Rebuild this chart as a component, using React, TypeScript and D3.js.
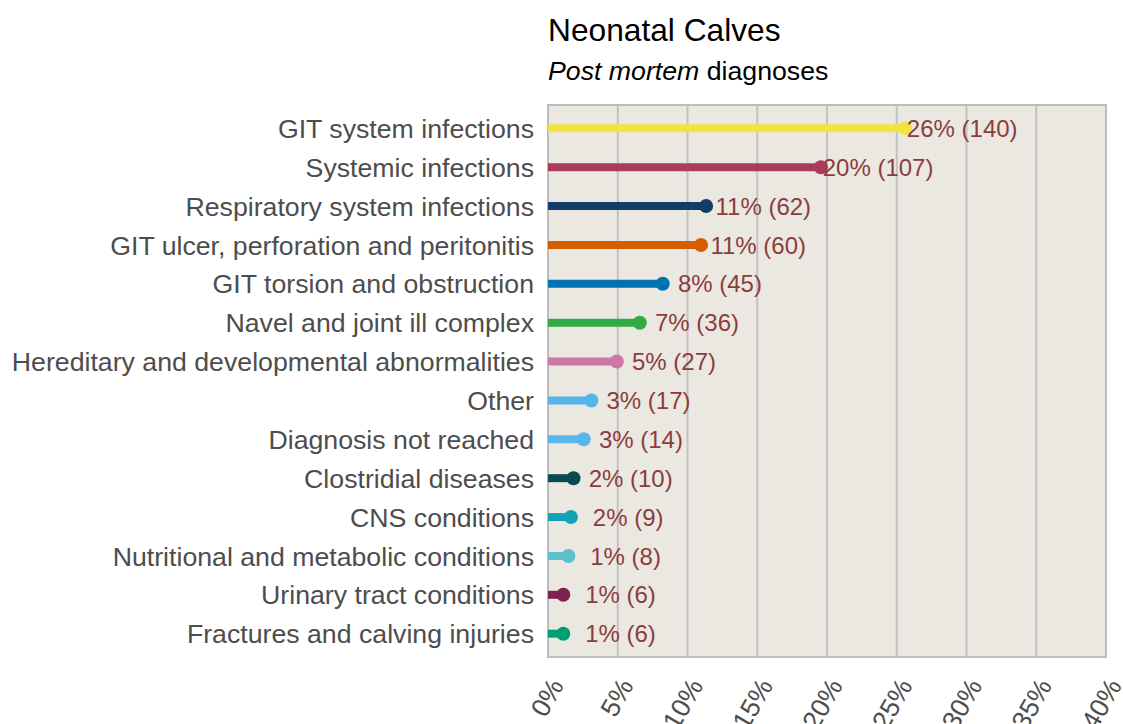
import React from "react";
import * as d3 from "d3";

const categories: string[] = [
  "GIT system infections",
  "Systemic infections",
  "Respiratory system infections",
  "GIT ulcer, perforation and peritonitis",
  "GIT torsion and obstruction",
  "Navel and joint ill complex",
  "Hereditary and developmental abnormalities",
  "Other",
  "Diagnosis not reached",
  "Clostridial diseases",
  "CNS conditions",
  "Nutritional and metabolic conditions",
  "Urinary tract conditions",
  "Fractures and calving injuries",
];

const counts: number[] = [140, 107, 62, 60, 45, 36, 27, 17, 14, 10, 9, 8, 6, 6];

const colors: string[] = [
  "#f0e442",
  "#aa3a5e",
  "#133c69",
  "#d55e00",
  "#0072b2",
  "#33aa44",
  "#cc79a7",
  "#56b4e9",
  "#5ab6ea",
  "#0b4a50",
  "#12a3b6",
  "#5cc0cf",
  "#7b2250",
  "#009e73",
];

const xTicks: number[] = [0, 5, 10, 15, 20, 25, 30, 35, 40];

const title = "Neonatal Calves";
const subtitleItalic = "Post mortem";
const subtitleRest = " diagnoses";

const W = 1123;
const H = 724;
const panel = { left: 548, right: 1106, top: 105, bottom: 657 };
const FONT = "'Liberation Sans', Arial, Helvetica, sans-serif";

export default function App() {
  const total = d3.sum(counts);
  const x = d3.scaleLinear().domain([0, 40]).range([panel.left, panel.right]);
  const y = d3
    .scalePoint<string>()
    .domain(categories)
    .range([panel.top, panel.bottom])
    .padding(0.6);

  return (
    <svg
      width={W}
      height={H}
      style={{ position: "absolute", left: 0, top: 0, background: "#ffffff" }}
      fontFamily={FONT}
    >
      <text x={548} y={41} fontSize={31.7} fill="#000000">
        {title}
      </text>
      <text x={548} y={80} fontSize={26.7} fill="#000000">
        <tspan fontStyle="italic">{subtitleItalic}</tspan>
        <tspan>{subtitleRest}</tspan>
      </text>

      <rect
        x={panel.left}
        y={panel.top}
        width={panel.right - panel.left}
        height={panel.bottom - panel.top}
        fill="#ebe8e1"
      />
      {xTicks.map((t) => (
        <line
          key={"g" + t}
          x1={x(t)}
          x2={x(t)}
          y1={panel.top}
          y2={panel.bottom}
          stroke="#c2c2c2"
          strokeWidth={2}
        />
      ))}
      <rect
        x={panel.left}
        y={panel.top}
        width={panel.right - panel.left}
        height={panel.bottom - panel.top}
        fill="none"
        stroke="#bdbdbd"
        strokeWidth={2}
      />

      {categories.map((c, i) => {
        const pct = (counts[i] / total) * 100;
        const yy = y(c) as number;
        return (
          <g key={c}>
            <line
              x1={x(0)}
              x2={x(pct)}
              y1={yy}
              y2={yy}
              stroke={colors[i]}
              strokeWidth={8}
            />
            <circle cx={x(pct)} cy={yy} r={7} fill={colors[i]} />
            <text
              x={x(pct + 4.1)}
              y={yy}
              dy="0.36em"
              textAnchor="middle"
              fontSize={24}
              fill="#8b3d3d"
            >
              {`${Math.round(pct)}% (${counts[i]})`}
            </text>
            <text
              x={534}
              y={yy}
              dy="0.36em"
              textAnchor="end"
              fontSize={26.7}
              fill="#4d4d4d"
            >
              {c}
            </text>
          </g>
        );
      })}

      {xTicks.map((t) => (
        <text
          key={"t" + t}
          transform={`translate(${x(t)},${676}) rotate(-60)`}
          textAnchor="end"
          dy="0.72em"
          fontSize={26.5}
          fill="#4d4d4d"
        >
          {`${t}%`}
        </text>
      ))}
    </svg>
  );
}
